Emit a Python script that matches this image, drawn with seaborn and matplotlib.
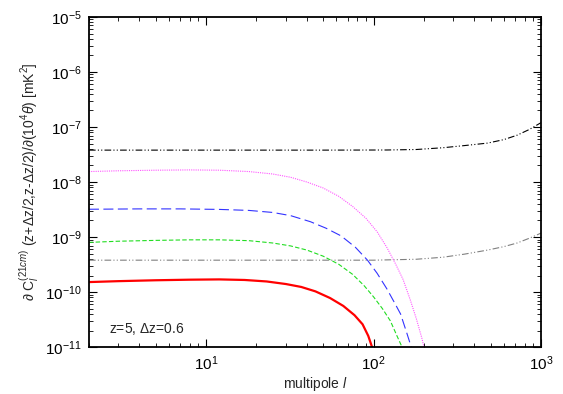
import numpy as np
import pandas as pd
import matplotlib
matplotlib.use('Agg')
import matplotlib.pyplot as plt
import seaborn as sns
from matplotlib.ticker import LogLocator, LogFormatterSciNotation, NullFormatter

sns.set_style("ticks")
plt.rcParams['font.family'] = ['Liberation Sans', 'DejaVu Sans']
plt.rcParams['mathtext.fontset'] = 'custom'
plt.rcParams['mathtext.rm'] = 'Liberation Sans'
plt.rcParams['mathtext.it'] = 'Liberation Sans:italic'

# ---- data ----
l_black = [2, 50, 120, 180, 260, 350, 480, 600, 720, 850, 1000]
v_black = [3.8e-8, 3.8e-8, 3.82e-8, 3.9e-8, 4.2e-8, 4.6e-8, 5.1e-8, 5.9e-8,
           7.1e-8, 9e-8, 1.2e-7]

l_gray = [2, 100, 180, 260, 350, 480, 600, 720, 850, 1000]
v_gray = [3.8e-10, 3.8e-10, 3.95e-10, 4.3e-10, 4.9e-10, 5.8e-10, 6.7e-10,
          7.8e-10, 9.5e-10, 1.18e-9]

l_mag = [2, 3, 5, 8, 12, 18, 25, 32, 40, 50, 62, 75, 90, 105, 120, 135, 150,
         165, 180, 195, 200]
v_mag = [1.55e-8, 1.6e-8, 1.64e-8, 1.66e-8, 1.64e-8, 1.55e-8, 1.4e-8, 1.22e-8,
         1.0e-8, 7.8e-9, 5.5e-9, 3.6e-9, 2.2e-9, 1.25e-9, 6.5e-10, 3.3e-10,
         1.7e-10, 7.5e-11, 3.3e-11, 1.4e-11, 1e-11]

l_blue = [2, 4, 7, 12, 18, 25, 32, 42, 52, 64, 78, 92, 105, 120, 135, 145,
          158, 168]
v_blue = [3.2e-9, 3.25e-9, 3.25e-9, 3.18e-9, 3.05e-9, 2.8e-9, 2.45e-9, 1.9e-9,
          1.45e-9, 1.05e-9, 6.5e-10, 3.8e-10, 2.2e-10, 1.15e-10, 6e-11, 4e-11,
          1.8e-11, 1e-11]

l_green = [2, 3, 5, 8, 12, 18, 25, 32, 40, 50, 62, 75, 88, 100, 113, 126,
           138, 148]
v_green = [8.0e-10, 8.4e-10, 8.7e-10, 8.9e-10, 8.9e-10, 8.6e-10, 7.8e-10,
           6.9e-10, 5.8e-10, 4.5e-10, 3.2e-10, 2.1e-10, 1.3e-10, 8.2e-11,
           5e-11, 3e-11, 1.6e-11, 1e-11]

l_red = [2, 3, 5, 8, 12, 17, 23, 30, 37, 45, 55, 66, 77, 86, 93, 98]
v_red = [1.52e-10, 1.58e-10, 1.64e-10, 1.68e-10, 1.7e-10, 1.66e-10, 1.56e-10,
         1.4e-10, 1.24e-10, 1.03e-10, 7.8e-11, 5.6e-11, 3.8e-11, 2.6e-11,
         1.6e-11, 1e-11]

fig = plt.figure(figsize=(5.63, 3.94), dpi=100)
ax = fig.add_axes([0.158, 0.119, 0.803, 0.838])

curves = [
    (l_black, v_black, '#000000', (0, (6, 2, 1, 2, 1, 2)), 0.8),
    (l_gray, v_gray, '#808080', (0, (6, 2, 1, 2, 1, 2)), 0.8),
    (l_mag, v_mag, '#ff55ff', (0, (1, 1)), 0.8),
    (l_blue, v_blue, '#3333ff', (0, (9, 4)), 0.8),
    (l_green, v_green, '#22dd22', (0, (4, 2)), 0.8),
    (l_red, v_red, '#ff0000', '-', 1.6),
]
for lx, vy, c, ls, lw in curves:
    sns.lineplot(x=lx, y=vy, ax=ax, color=c, linestyle=ls, linewidth=lw,
                 sort=False, estimator=None)

ax.set_xscale('log')
ax.set_yscale('log')
ax.set_xlim(2, 1000)
ax.set_ylim(1e-11, 1e-5)

ax.xaxis.set_major_locator(LogLocator(base=10, numticks=10))
ax.yaxis.set_major_locator(LogLocator(base=10, numticks=10))
ax.xaxis.set_minor_locator(LogLocator(base=10, subs=np.arange(2, 10), numticks=20))
ax.yaxis.set_minor_locator(LogLocator(base=10, subs=np.arange(2, 10), numticks=20))
ax.xaxis.set_minor_formatter(NullFormatter())
ax.yaxis.set_minor_formatter(NullFormatter())
ax.xaxis.set_major_formatter(LogFormatterSciNotation())
ax.yaxis.set_major_formatter(LogFormatterSciNotation())

ax.tick_params(which='both', direction='in', top=True, right=True,
               labelsize=11, colors='black')
ax.tick_params(which='major', length=6, width=0.8, pad=5)
ax.tick_params(which='minor', length=3, width=0.6)
for s in ax.spines.values():
    s.set_linewidth(1.3)
    s.set_color('black')

ax.set_xlabel(r'multipole $l$', fontsize=10, labelpad=2)
ax.set_ylabel(r'$\partial$ C$_l^{(21cm)}$ (z+$\Delta$z/2,z-$\Delta$z/2)/$\partial$(10$^4\theta$) [mK$^2$]',
              fontsize=10, labelpad=3)
ax.text(0.045, 0.055, r'z=5, $\Delta$z=0.6', transform=ax.transAxes, fontsize=10,
        ha='left', va='center')

fig.savefig('out.png', dpi=100)
